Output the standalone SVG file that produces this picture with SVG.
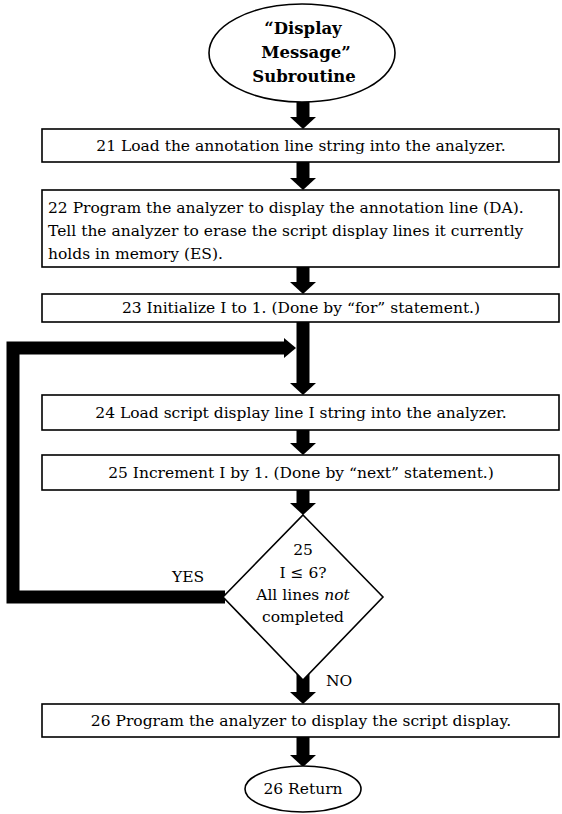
<svg xmlns="http://www.w3.org/2000/svg" width="562" height="814" viewBox="0 0 562 814">
<style>
.box{fill:#fff;stroke:#000;stroke-width:1.6}
.t{font-family:"DejaVu Serif","Liberation Serif",serif;font-size:15.5px;fill:#000}
.c{text-anchor:middle}
.title{font-family:"DejaVu Serif","Liberation Serif",serif;font-size:16.5px;font-weight:bold;text-anchor:middle;fill:#000}
.flow{fill:none;stroke:#000;stroke-width:13}
</style>
<defs>
<marker id="ah" markerUnits="userSpaceOnUse" markerWidth="12" markerHeight="26" viewBox="0 0 12 26" refX="0" refY="13" orient="auto">
<path d="M0,0 L12,13 L0,26 Z" fill="#000"/>
</marker>
<marker id="ahs" markerUnits="userSpaceOnUse" markerWidth="12" markerHeight="20" viewBox="0 0 12 20" refX="0" refY="10" orient="auto">
<path d="M0,0 L12,10 L0,20 Z" fill="#000"/>
</marker>
</defs>
<rect width="562" height="814" fill="#fff"/>
<g id="connectors">
<line class="flow" x1="303" y1="100" x2="303" y2="117" marker-end="url(#ah)"/>
<line class="flow" x1="303" y1="162" x2="303" y2="178" marker-end="url(#ah)"/>
<line class="flow" x1="303" y1="267" x2="303" y2="282" marker-end="url(#ah)"/>
<line class="flow" x1="303" y1="322" x2="303" y2="383" marker-end="url(#ah)"/>
<line class="flow" x1="303" y1="430" x2="303" y2="443" marker-end="url(#ah)"/>
<line class="flow" x1="303" y1="490" x2="303" y2="503" marker-end="url(#ah)"/>
<line class="flow" x1="303" y1="668" x2="303" y2="692" marker-end="url(#ah)"/>
<line class="flow" x1="303" y1="737" x2="303" y2="755" marker-end="url(#ah)"/>
<polyline class="flow" points="225,597 13,597 13,348 284,348" stroke-linejoin="miter" marker-end="url(#ahs)"/>
</g>
<g id="start">
<ellipse cx="302" cy="53" rx="93" ry="49" class="box"/>
<text class="title" x="303" y="34">“Display</text>
<text class="title" x="306" y="58">Message”</text>
<text class="title" x="304" y="82">Subroutine</text>
</g>
<g id="step21">
<rect x="42" y="129" width="517" height="33" class="box"/>
<text class="t c" x="301" y="151">21  Load the annotation line string into the analyzer.</text>
</g>
<g id="step22">
<rect x="42" y="190" width="517" height="77" class="box"/>
<text class="t" x="48" y="213">22  Program the analyzer to display the annotation line (DA).</text>
<text class="t" x="48" y="236">Tell the analyzer to erase the script display lines it currently</text>
<text class="t" x="48" y="259">holds in memory (ES).</text>
</g>
<g id="step23">
<rect x="42" y="294" width="517" height="28" class="box"/>
<text class="t c" x="301" y="313">23  Initialize I to 1. (Done by “for” statement.)</text>
</g>
<g id="step24">
<rect x="42" y="395" width="517" height="35" class="box"/>
<text class="t c" x="301" y="418">24  Load script display line I string into the analyzer.</text>
</g>
<g id="step25">
<rect x="42" y="455" width="517" height="35" class="box"/>
<text class="t c" x="301" y="478">25  Increment I by 1. (Done by “next” statement.)</text>
</g>
<g id="decision">
<polygon points="303,515 383,597 303,680 223,597" class="box"/>
<text class="t c" x="303" y="555">25</text>
<text class="t c" x="303" y="578">I ≤ 6?</text>
<text class="t c" x="303" y="600">All lines <tspan font-style="italic">not</tspan></text>
<text class="t c" x="303" y="622">completed</text>
<text class="t c" x="188" y="582">YES</text>
<text class="t" x="326" y="686">NO</text>
</g>
<g id="step26">
<rect x="42" y="704" width="517" height="33" class="box"/>
<text class="t c" x="301" y="726">26  Program the analyzer to display the script display.</text>
</g>
<g id="end">
<ellipse cx="303" cy="789" rx="58" ry="23" class="box"/>
<text class="t c" x="303" y="794">26  Return</text>
</g>
</svg>
